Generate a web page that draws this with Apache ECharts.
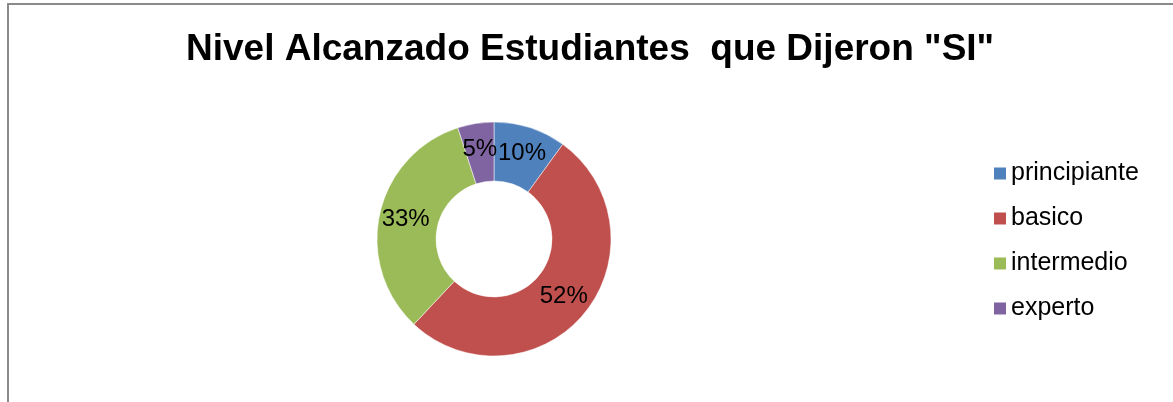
<!DOCTYPE html>
<html>
<head>
<meta charset="utf-8">
<script src="https://cdn.jsdelivr.net/npm/echarts@6/dist/echarts.min.js"></script>
<style>
  html, body { margin: 0; padding: 0; background: #fff; }
  #main { width: 1173px; height: 402px; }
</style>
</head>
<body>
<div id="main"></div>
<script>
// datos del gráfico
var niveles = ['principiante', 'basico', 'intermedio', 'experto'];
var porcentajes = [10, 52, 33, 5];
var colores = ['#4F81BD', '#C0504D', '#9BBB59', '#8064A2'];

var myChart = echarts.init(document.getElementById('main'));

var datos = niveles.map(function (n, i) {
    return { name: n, value: porcentajes[i] };
});

var option = {
    color: colores,
    // marco gris del área del gráfico
    graphic: [{
        type: 'rect',
        shape: { x: 8, y: 4, width: 1300, height: 600 },
        style: { fill: 'none', stroke: '#8a8a8a', lineWidth: 2 },
        silent: true
    }],
    title: {
        text: 'Nivel Alcanzado Estudiantes  que Dijeron "SI"',
        left: 186,
        top: 31,
        padding: 0,
        textStyle: {
            fontFamily: 'Liberation Sans',
            fontWeight: 'bold',
            fontSize: 37,
            color: '#000'
        }
    },
    legend: {
        orient: 'vertical',
        left: 992,
        top: 161,
        padding: 0,
        icon: 'rect',
        itemWidth: 14,
        itemHeight: 14,
        itemGap: 20,
        data: niveles,
        textStyle: {
            fontFamily: 'Liberation Sans',
            fontSize: 25,
            lineHeight: 25,
            color: '#000',
            padding: [0, 0, 0, -1]
        }
    },
    series: [{
        type: 'pie',
        center: [494, 239],
        radius: [58, 117],
        startAngle: 90,
        clockwise: true,
        avoidLabelOverlap: false,
        itemStyle: { borderColor: '#fff', borderWidth: 0.5 },
        label: {
            show: true,
            position: 'inside',
            formatter: '{c}%',
            color: '#000',
            fontFamily: 'Liberation Sans',
            fontSize: 24
        },
        labelLine: { show: false },
        emphasis: { disabled: true },
        data: datos
    }]
};

myChart.setOption(option);
</script>
</body>
</html>
